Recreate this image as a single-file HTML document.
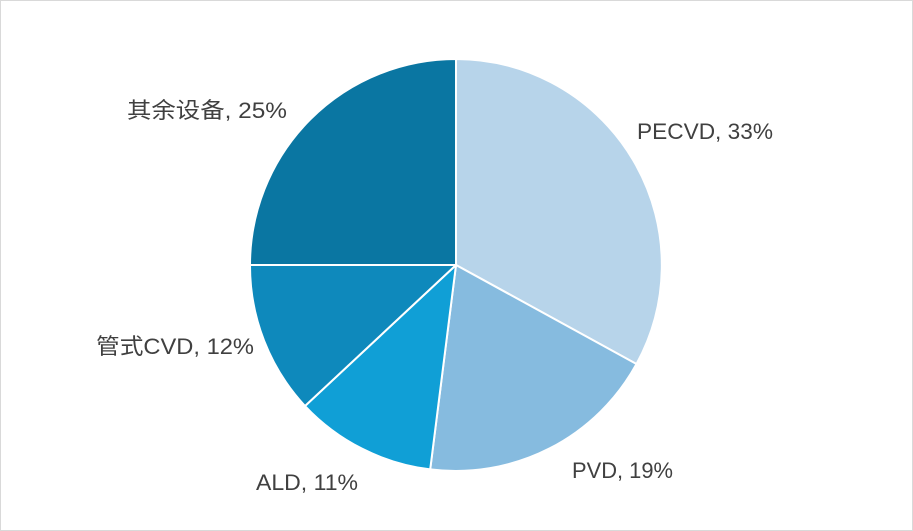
<!DOCTYPE html>
<html><head><meta charset="utf-8"><style>
html,body{margin:0;padding:0;background:#fff;}
svg{display:block;}
text{font-family:"Liberation Sans","Noto Sans CJK SC",sans-serif;font-size:22px;fill:#404040;}
</style></head><body>
<svg width="913" height="531" viewBox="0 0 913 531">
<rect x="0.5" y="0.5" width="912" height="530" fill="#fff" stroke="#d9d9d9"/>
<g stroke="#fff" stroke-width="2" stroke-linejoin="round">
<path d="M456,265 L456,59 A206,206 0 0 1 636.5,364 Z" fill="#b7d4ea"/>
<path d="M456,265 L636.5,364 A206,206 0 0 1 430.2,469.4 Z" fill="#86bbdf"/>
<path d="M456,265 L430.2,469.4 A206,206 0 0 1 305,406 Z" fill="#109fd6"/>
<path d="M456,265 L305,406 A206,206 0 0 1 250,265 Z" fill="#0e89bc"/>
<path d="M456,265 L250,265 A206,206 0 0 1 456,59 Z" fill="#0a76a2"/>
</g>
<text x="127" y="118" textLength="160" lengthAdjust="spacingAndGlyphs">其余设备, 25%</text>
<text x="637" y="139" textLength="136" lengthAdjust="spacingAndGlyphs">PECVD, 33%</text>
<text x="96" y="354" textLength="158" lengthAdjust="spacingAndGlyphs">管式CVD, 12%</text>
<text x="256" y="490" textLength="102" lengthAdjust="spacingAndGlyphs">ALD, 11%</text>
<text x="572" y="478" textLength="101" lengthAdjust="spacingAndGlyphs">PVD, 19%</text>
</svg>
</body></html>
